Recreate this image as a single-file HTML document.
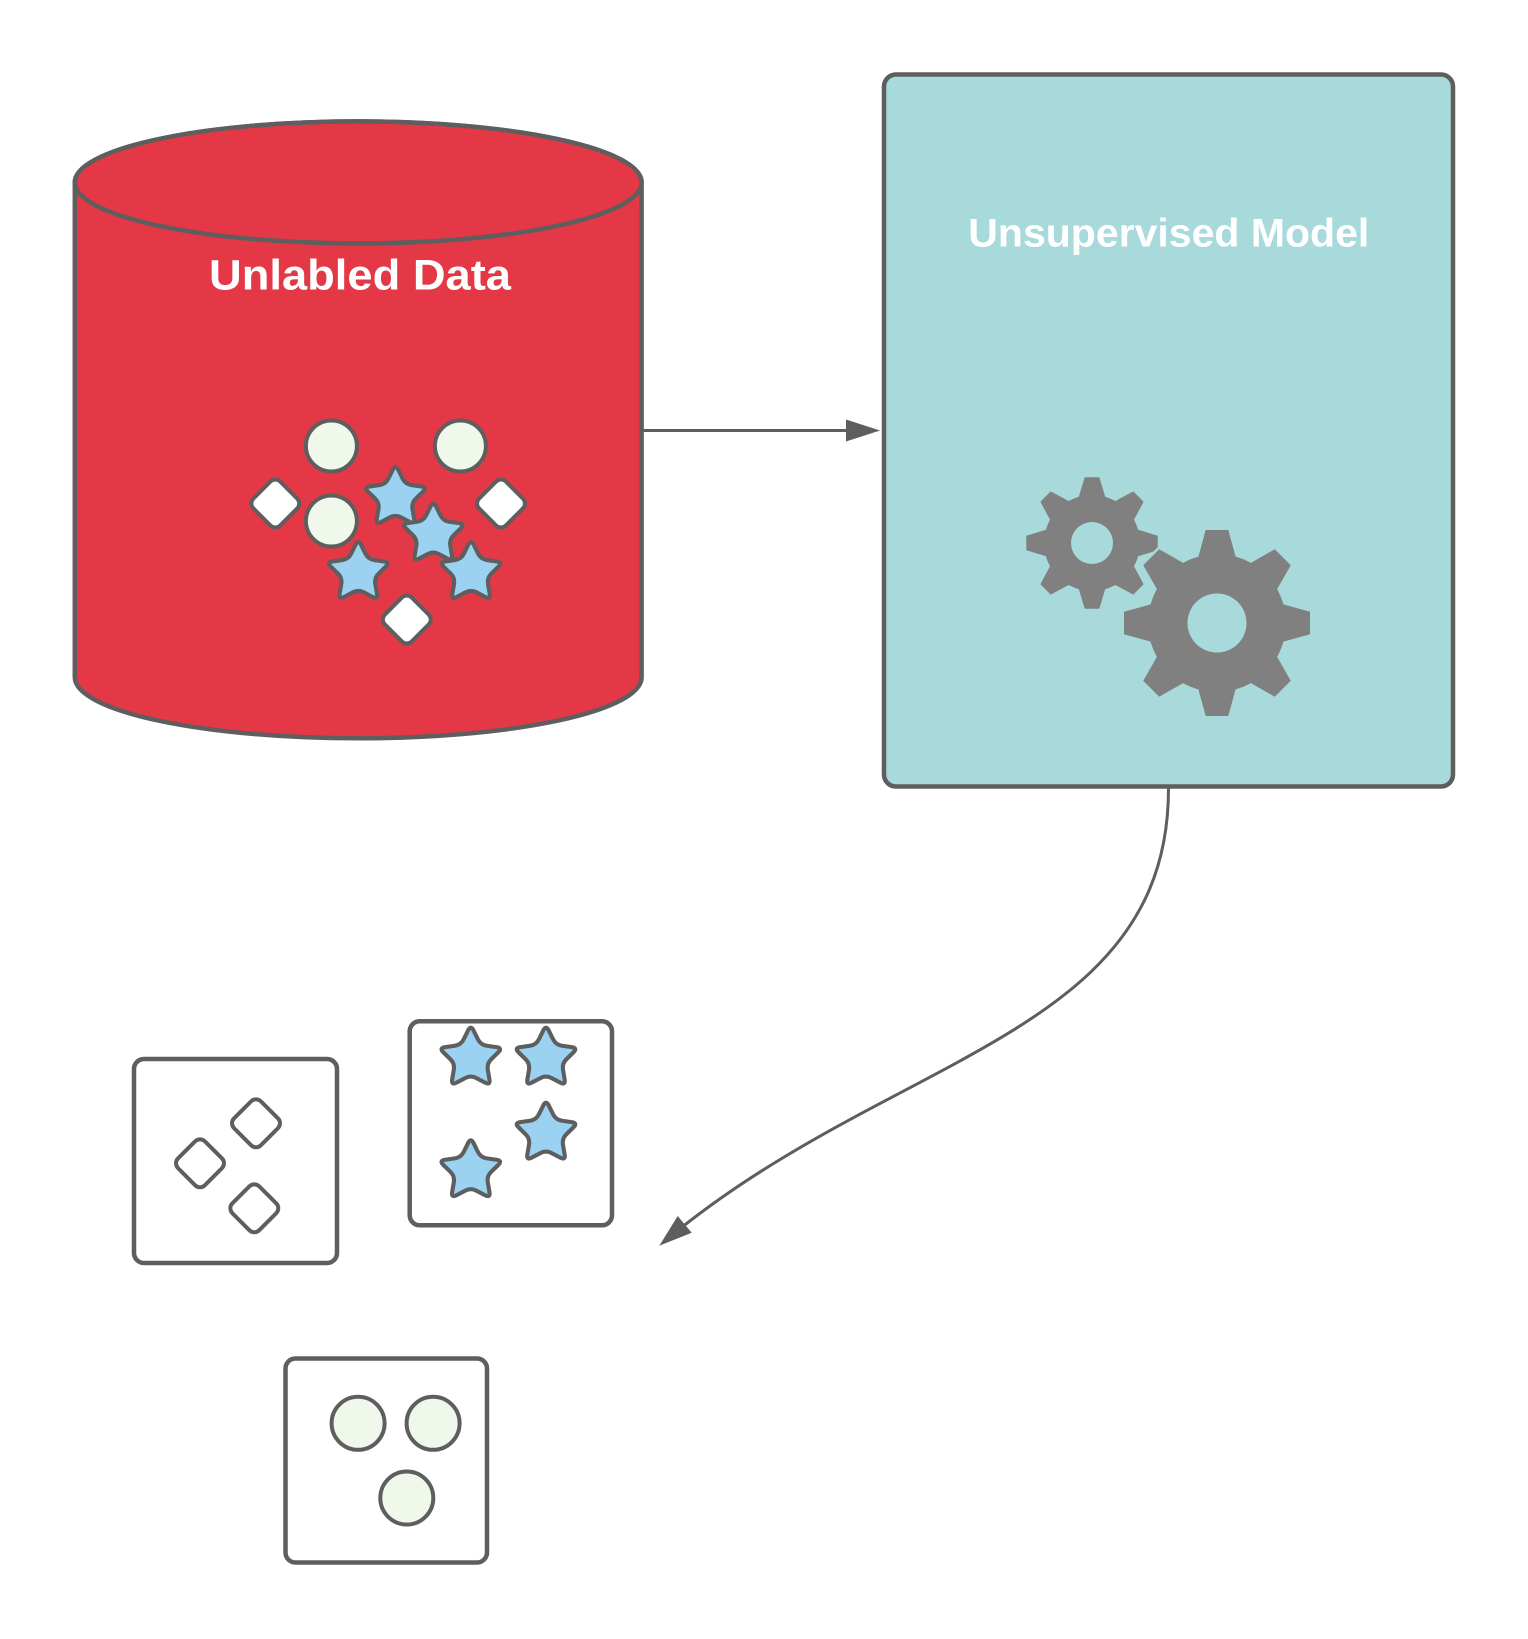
<!DOCTYPE html>
<html>
<head>
<meta charset="utf-8">
<style>
  html,body{margin:0;padding:0;background:#ffffff;}
  svg{display:block;}
  text{font-family:"Liberation Sans",Arial,sans-serif;font-weight:bold;fill:#ffffff;}
</style>
</head>
<body>
<svg width="1528" height="1639" viewBox="0 0 1528 1639" xmlns="http://www.w3.org/2000/svg">
  <rect x="0" y="0" width="1528" height="1639" fill="#ffffff"/>

  <!-- Cylinder -->
  <path d="M74.8,182.4 L74.8,677.3 A283.4,61 0 0,0 641.6,677.3 L641.6,182.4 A283.4,61 0 0,0 74.8,182.4 Z" fill="#e53847" stroke="#5e5e5e" stroke-width="4.5"/>
  <ellipse cx="358.2" cy="182.4" rx="283.4" ry="61" fill="#e53847" stroke="#5e5e5e" stroke-width="4.5"/>
  <text x="360" y="289.3" font-size="43" text-anchor="middle" textLength="302" lengthAdjust="spacingAndGlyphs">Unlabled Data</text>

  <!-- cylinder circles -->
  <g fill="#f0f8ec" stroke="#5e5e5e" stroke-width="4">
    <circle cx="331.4" cy="446" r="25.5"/>
    <circle cx="460.4" cy="446" r="25.5"/>
    <circle cx="331.4" cy="521" r="25.5"/>
  </g>
  <!-- cylinder diamonds -->
  <g fill="#ffffff" stroke="#5e5e5e" stroke-width="4">
    <rect x="-19" y="-19" width="38" height="38" rx="7" transform="translate(275.3,503.5) rotate(45)"/>
    <rect x="-19" y="-19" width="38" height="38" rx="7" transform="translate(501,503.5) rotate(45)"/>
    <rect x="-19" y="-19" width="38" height="38" rx="7" transform="translate(406.8,619.5) rotate(45)"/>
  </g>
  <!-- cylinder stars -->
  <g fill="#9bd1f1" stroke="#5e5e5e" stroke-width="3.6" stroke-linejoin="round">
    <path transform="translate(395.5,497.7) scale(1.136)" d="M2.43 -24.58 L6.24 -16.85 Q8.67 -11.93 14.10 -11.14 L22.63 -9.91 Q28.06 -9.12 24.13 -5.29 L17.96 0.73 Q14.03 4.56 14.96 9.97 L16.41 18.46 Q17.34 23.87 12.48 21.32 L4.86 17.30 Q0 14.75 -4.86 17.30 L-12.48 21.32 Q-17.34 23.87 -16.41 18.46 L-14.96 9.97 Q-14.03 4.56 -17.96 0.73 L-24.13 -5.29 Q-28.06 -9.12 -22.63 -9.91 L-14.10 -11.14 Q-8.67 -11.93 -6.24 -16.85 L-2.43 -24.58 Q0 -29.5 2.43 -24.58 Z"/>
    <path transform="translate(433.3,534.4) scale(1.136)" d="M2.43 -24.58 L6.24 -16.85 Q8.67 -11.93 14.10 -11.14 L22.63 -9.91 Q28.06 -9.12 24.13 -5.29 L17.96 0.73 Q14.03 4.56 14.96 9.97 L16.41 18.46 Q17.34 23.87 12.48 21.32 L4.86 17.30 Q0 14.75 -4.86 17.30 L-12.48 21.32 Q-17.34 23.87 -16.41 18.46 L-14.96 9.97 Q-14.03 4.56 -17.96 0.73 L-24.13 -5.29 Q-28.06 -9.12 -22.63 -9.91 L-14.10 -11.14 Q-8.67 -11.93 -6.24 -16.85 L-2.43 -24.58 Q0 -29.5 2.43 -24.58 Z"/>
    <path transform="translate(358.3,572.7) scale(1.136)" d="M2.43 -24.58 L6.24 -16.85 Q8.67 -11.93 14.10 -11.14 L22.63 -9.91 Q28.06 -9.12 24.13 -5.29 L17.96 0.73 Q14.03 4.56 14.96 9.97 L16.41 18.46 Q17.34 23.87 12.48 21.32 L4.86 17.30 Q0 14.75 -4.86 17.30 L-12.48 21.32 Q-17.34 23.87 -16.41 18.46 L-14.96 9.97 Q-14.03 4.56 -17.96 0.73 L-24.13 -5.29 Q-28.06 -9.12 -22.63 -9.91 L-14.10 -11.14 Q-8.67 -11.93 -6.24 -16.85 L-2.43 -24.58 Q0 -29.5 2.43 -24.58 Z"/>
    <path transform="translate(471,572.7) scale(1.136)" d="M2.43 -24.58 L6.24 -16.85 Q8.67 -11.93 14.10 -11.14 L22.63 -9.91 Q28.06 -9.12 24.13 -5.29 L17.96 0.73 Q14.03 4.56 14.96 9.97 L16.41 18.46 Q17.34 23.87 12.48 21.32 L4.86 17.30 Q0 14.75 -4.86 17.30 L-12.48 21.32 Q-17.34 23.87 -16.41 18.46 L-14.96 9.97 Q-14.03 4.56 -17.960.73 L-24.13 -5.29 Q-28.06 -9.12 -22.63 -9.91 L-14.10 -11.14 Q-8.67 -11.93 -6.24 -16.85 L-2.43 -24.58 Q0 -29.5 2.43 -24.58 Z"/>
  </g>

  <!-- Horizontal connector -->
  <line x1="641.6" y1="430.5" x2="850" y2="430.5" stroke="#5e5e5e" stroke-width="3"/>
  <polygon points="880,430.5 846,419.5 846,441.5" fill="#5e5e5e"/>

  <!-- Teal model box -->
  <rect x="884" y="74.5" width="569" height="712" rx="12" ry="12" fill="#a8dadc" stroke="#5e5e5e" stroke-width="4.5"/>
  <text x="1168.8" y="246.7" font-size="40" text-anchor="middle" textLength="401" lengthAdjust="spacingAndGlyphs">Unsupervised Model</text>

  <!-- Small gear -->
  <g transform="translate(1092,543)" fill="#808080">
    <circle cx="0" cy="0" r="48"/>
    <polygon points="-13.3,-46 -7.3,-65.7 7.3,-65.7 13.3,-46"/>
    <polygon points="-13.3,-46 -7.3,-65.7 7.3,-65.7 13.3,-46" transform="rotate(45)"/>
    <polygon points="-13.3,-46 -7.3,-65.7 7.3,-65.7 13.3,-46" transform="rotate(90)"/>
    <polygon points="-13.3,-46 -7.3,-65.7 7.3,-65.7 13.3,-46" transform="rotate(135)"/>
    <polygon points="-13.3,-46 -7.3,-65.7 7.3,-65.7 13.3,-46" transform="rotate(180)"/>
    <polygon points="-13.3,-46 -7.3,-65.7 7.3,-65.7 13.3,-46" transform="rotate(225)"/>
    <polygon points="-13.3,-46 -7.3,-65.7 7.3,-65.7 13.3,-46" transform="rotate(270)"/>
    <polygon points="-13.3,-46 -7.3,-65.7 7.3,-65.7 13.3,-46" transform="rotate(315)"/>
    <circle cx="0" cy="0" r="21" fill="#a8dadc"/>
  </g>
  <!-- Large gear: teal outline underlay to create gap -->
  <g transform="translate(1217,623)" fill="#a8dadc" stroke="#a8dadc" stroke-width="5" stroke-linejoin="round">
    <circle cx="0" cy="0" r="69"/>
    <polygon points="-18.7,-66 -11.3,-93 11.3,-93 18.7,-66"/>
    <polygon points="-18.7,-66 -11.3,-93 11.3,-93 18.7,-66" transform="rotate(45)"/>
    <polygon points="-18.7,-66 -11.3,-93 11.3,-93 18.7,-66" transform="rotate(90)"/>
    <polygon points="-18.7,-66 -11.3,-93 11.3,-93 18.7,-66" transform="rotate(135)"/>
    <polygon points="-18.7,-66 -11.3,-93 11.3,-93 18.7,-66" transform="rotate(180)"/>
    <polygon points="-18.7,-66 -11.3,-93 11.3,-93 18.7,-66" transform="rotate(225)"/>
    <polygon points="-18.7,-66 -11.3,-93 11.3,-93 18.7,-66" transform="rotate(270)"/>
    <polygon points="-18.7,-66 -11.3,-93 11.3,-93 18.7,-66" transform="rotate(315)"/>
  </g>
  <g transform="translate(1217,623)" fill="#808080">
    <circle cx="0" cy="0" r="69"/>
    <polygon points="-18.7,-66 -11.3,-93 11.3,-93 18.7,-66"/>
    <polygon points="-18.7,-66 -11.3,-93 11.3,-93 18.7,-66" transform="rotate(45)"/>
    <polygon points="-18.7,-66 -11.3,-93 11.3,-93 18.7,-66" transform="rotate(90)"/>
    <polygon points="-18.7,-66 -11.3,-93 11.3,-93 18.7,-66" transform="rotate(135)"/>
    <polygon points="-18.7,-66 -11.3,-93 11.3,-93 18.7,-66" transform="rotate(180)"/>
    <polygon points="-18.7,-66 -11.3,-93 11.3,-93 18.7,-66" transform="rotate(225)"/>
    <polygon points="-18.7,-66 -11.3,-93 11.3,-93 18.7,-66" transform="rotate(270)"/>
    <polygon points="-18.7,-66 -11.3,-93 11.3,-93 18.7,-66" transform="rotate(315)"/>
    <circle cx="0" cy="0" r="29.5" fill="#a8dadc"/>
  </g>

  <!-- Curved connector -->
  <path d="M1168.5,788.5 C1168.5,1038 888.8,1053 665,1241" fill="none" stroke="#5e5e5e" stroke-width="3"/>
  <polygon points="659.3,1245.7 677.7,1216 691.7,1232.7" fill="#5e5e5e"/>

  <!-- Bottom box 1: diamonds -->
  <rect x="134" y="1059" width="203" height="204" rx="10" ry="10" fill="#ffffff" stroke="#5e5e5e" stroke-width="4.5"/>
  <g fill="#ffffff" stroke="#5e5e5e" stroke-width="4">
    <rect x="-19" y="-19" width="38" height="38" rx="7" transform="translate(200,1163.3) rotate(45)"/>
    <rect x="-19" y="-19" width="38" height="38" rx="7" transform="translate(256,1123.3) rotate(45)"/>
    <rect x="-19" y="-19" width="38" height="38" rx="7" transform="translate(254.3,1208.3) rotate(45)"/>
  </g>

  <!-- Bottom box 2: stars -->
  <rect x="409.7" y="1021.3" width="202.3" height="204" rx="10" ry="10" fill="#ffffff" stroke="#5e5e5e" stroke-width="4.5"/>
  <g fill="#9bd1f1" stroke="#5e5e5e" stroke-width="3.6" stroke-linejoin="round">
    <path transform="translate(470.8,1058.4) scale(1.136)" d="M2.43 -24.58 L6.24 -16.85 Q8.67 -11.93 14.10 -11.14 L22.63 -9.91 Q28.06 -9.12 24.13 -5.29 L17.96 0.73 Q14.03 4.56 14.96 9.97 L16.41 18.46 Q17.34 23.87 12.48 21.32 L4.86 17.30 Q0 14.75 -4.86 17.30 L-12.48 21.32 Q-17.34 23.87 -16.41 18.46 L-14.96 9.97 Q-14.03 4.56 -17.96 0.73 L-24.13 -5.29 Q-28.06 -9.12 -22.63 -9.91 L-14.10 -11.14 Q-8.67 -11.93 -6.24 -16.85 L-2.43 -24.58 Q0 -29.5 2.43 -24.58 Z"/>
    <path transform="translate(546,1058.4) scale(1.136)" d="M2.43 -24.58 L6.24 -16.85 Q8.67 -11.93 14.10 -11.14 L22.63 -9.91 Q28.06 -9.12 24.13 -5.29 L17.96 0.73 Q14.03 4.56 14.96 9.97 L16.41 18.46 Q17.34 23.87 12.48 21.32 L4.86 17.30 Q0 14.75 -4.86 17.30 L-12.48 21.32 Q-17.34 23.87 -16.41 18.46 L-14.96 9.97 Q-14.03 4.56 -17.96 0.73 L-24.13 -5.29 Q-28.06 -9.12 -22.63 -9.91 L-14.10 -11.14 Q-8.67 -11.93 -6.24 -16.85 L-2.43 -24.58 Q0 -29.5 2.43 -24.58 Z"/>
    <path transform="translate(546,1133.4) scale(1.136)" d="M2.43 -24.58 L6.24 -16.85 Q8.67 -11.93 14.10 -11.14 L22.63 -9.91 Q28.06 -9.12 24.13 -5.29 L17.96 0.73 Q14.03 4.56 14.96 9.97 L16.41 18.46 Q17.34 23.87 12.48 21.32 L4.86 17.30 Q0 14.75 -4.86 17.30 L-12.48 21.32 Q-17.34 23.87 -16.41 18.46 L-14.96 9.97 Q-14.03 4.56 -17.96 0.73 L-24.13 -5.29 Q-28.06 -9.12 -22.63 -9.91 L-14.10 -11.14 Q-8.67 -11.93 -6.24 -16.85 L-2.43 -24.58 Q0 -29.5 2.43 -24.58 Z"/>
    <path transform="translate(470.8,1171) scale(1.136)" d="M2.43 -24.58 L6.24 -16.85 Q8.67 -11.93 14.10 -11.14 L22.63 -9.91 Q28.06 -9.12 24.13 -5.29 L17.96 0.73 Q14.03 4.56 14.96 9.97 L16.41 18.46 Q17.34 23.87 12.48 21.32 L4.86 17.30 Q0 14.75 -4.86 17.30 L-12.48 21.32 Q-17.34 23.87 -16.41 18.46 L-14.96 9.97 Q-14.03 4.56 -17.96 0.73 L-24.13 -5.29 Q-28.06 -9.12 -22.63 -9.91 L-14.10 -11.14 Q-8.67 -11.93 -6.24 -16.85 L-2.43 -24.58 Q0 -29.5 2.43 -24.58 Z"/>
  </g>

  <!-- Bottom box 3: circles -->
  <rect x="285.5" y="1358.5" width="201.5" height="204" rx="10" ry="10" fill="#ffffff" stroke="#5e5e5e" stroke-width="4.5"/>
  <g fill="#f0f8ec" stroke="#5e5e5e" stroke-width="4">
    <circle cx="358.1" cy="1423.3" r="26.5"/>
    <circle cx="433.1" cy="1423.3" r="26.5"/>
    <circle cx="406.8" cy="1498" r="26.5"/>
  </g>
</svg>
</body>
</html>
